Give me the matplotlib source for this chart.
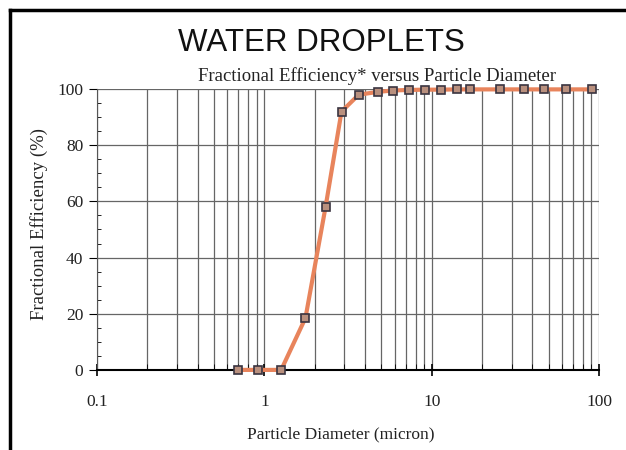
import numpy as np
import matplotlib.pyplot as plt
from matplotlib.lines import Line2D
from matplotlib.ticker import LogLocator, FixedLocator, NullFormatter

# particle diameter (micron) and fractional efficiency (%)
diameter = [0.70, 0.91, 1.26, 1.76, 2.32, 2.89, 3.66, 4.75, 5.84, 7.28, 9.08,
            11.3, 14.1, 16.9, 25.5, 35.6, 46.9, 63.4, 90.8]
efficiency = [0.0, 0.0, 0.0, 18.5, 58.0, 92.0, 98.0, 99.0, 99.5, 99.7, 99.8,
              99.8, 99.9, 99.9, 99.9, 99.9, 99.9, 99.9, 99.9]

x_ticks = [0.1, 1, 10, 100]
x_tick_labels = ['0.1', '1', '10', '100']
y_ticks = [0, 20, 40, 60, 80, 100]

serif = ['Liberation Serif', 'DejaVu Serif']

fig = plt.figure(figsize=(6.26, 4.5), dpi=100)
ax = fig.add_axes([0.155, 0.178, 0.802, 0.624])

ax.plot(diameter, efficiency, color='#e8845c', linewidth=3, marker='s',
        markersize=6, markerfacecolor='#b9907e', markeredgecolor='#3a3440',
        markeredgewidth=1.2, zorder=3, clip_on=False)

ax.set_xscale('log')
ax.set_xlim(0.1, 100)
ax.set_ylim(0, 100)

ax.xaxis.set_major_locator(FixedLocator(x_ticks))
ax.set_xticklabels(x_tick_labels)
ax.xaxis.set_minor_locator(LogLocator(base=10, subs=np.arange(2, 10)))
ax.xaxis.set_minor_formatter(NullFormatter())
ax.set_yticks(y_ticks)
ax.yaxis.set_minor_locator(FixedLocator(np.arange(0, 101, 5)))

ax.grid(True, which='major', axis='both', color='#666666', linewidth=0.9)
ax.grid(True, which='minor', axis='x', color='#666666', linewidth=0.9)

for s in ['top', 'right']:
    ax.spines[s].set_visible(False)
ax.spines['bottom'].set_linewidth(1.5)
ax.spines['left'].set_linewidth(0.8)
ax.spines['left'].set_color('#555555')

ax.tick_params(axis='x', which='major', direction='inout', length=8, width=1.2, pad=13)
ax.tick_params(axis='x', which='minor', direction='in', length=4)
ax.tick_params(axis='y', which='major', direction='out', length=6, pad=4)
ax.tick_params(axis='y', which='minor', direction='in', length=3)

for lab in ax.get_xticklabels() + ax.get_yticklabels():
    lab.set_family(serif)
    lab.set_fontsize(12.5)
    lab.set_color('#222222')

ax.set_xlabel('Particle Diameter (micron)', family=serif, fontsize=12.5,
              color='#222222', labelpad=12)
ax.xaxis.set_label_coords(0.485, -0.2)
ax.set_ylabel('Fractional Efficiency (%)', family=serif, fontsize=13.5,
              color='#222222', labelpad=8)
ax.yaxis.set_label_coords(-0.097, 0.52)

fig.text(0.513, 0.887, 'WATER DROPLETS', family=['Liberation Sans', 'DejaVu Sans'],
         fontsize=22.5, ha='center', va='baseline', color='#111111')
fig.text(0.602, 0.82, 'Fractional Efficiency* versus Particle Diameter',
         family=serif, fontsize=13.5, ha='center', va='baseline', color='#222222')

# scanned page frame
fig.add_artist(Line2D([0.016, 1.0], [0.978, 0.978], color='black', linewidth=2.5))
fig.add_artist(Line2D([0.016, 0.016], [0.0, 0.978], color='black', linewidth=2.5))

fig.savefig('out.png', dpi=100)
